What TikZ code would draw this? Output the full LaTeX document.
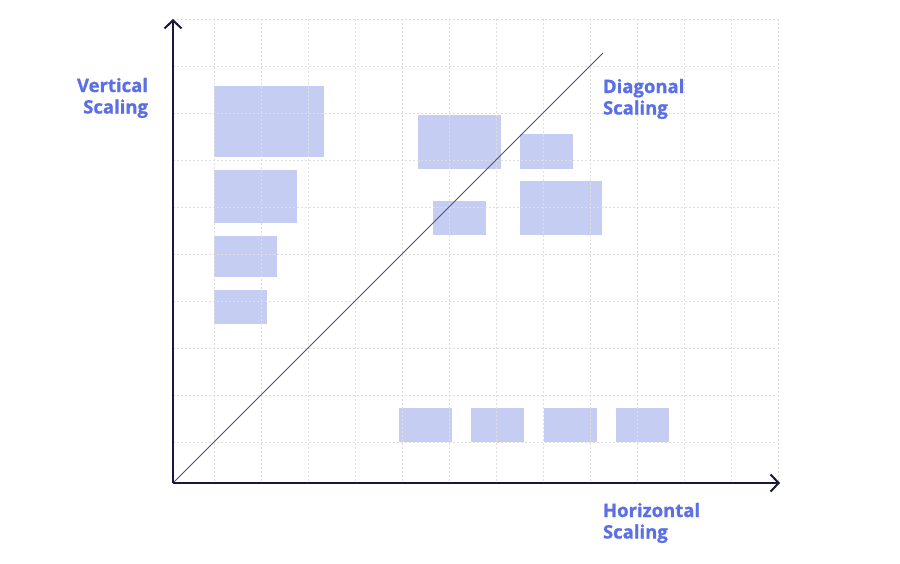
\documentclass[tikz,border=0pt]{standalone}
\usepackage{fontspec}
\setmainfont{Open Sans}[BoldFont={Open Sans Bold}, BoldFeatures={FakeBold=1}]
\usepackage{xcolor}
\usetikzlibrary{arrows.meta}
\definecolor{scalefill}{RGB}{197,205,242}
\definecolor{scaletext}{RGB}{91,112,228}
\definecolor{axisnavy}{RGB}{26,24,56}
\tikzset{>={Straight Barb[length=8pt,width=17pt]}}

\begin{document}
\begin{tikzpicture}[x=1pt, y=-1pt]
                % grid is 47px, rectangles sit on it
                \tikzstyle{every node}=[inner sep=0pt, outer sep=0pt]
                \tikzstyle{block}=[fill=scalefill, draw=none]
                \tikzstyle{gridline}=[gray!25, line width=0.7pt, dash pattern=on 2pt off 2pt]
                \tikzstyle{axisline}=[axisnavy, line width=2pt, ->]
                \tikzstyle{caption}=[text=scaletext, font=\fontsize{18.5}{21.5}\selectfont\bfseries]
                \fill[white] (0,0) rectangle (900,563);
                \useasboundingbox (0,0) rectangle (900,563);

                % vertical scaling
                \node[block, minimum width=110, minimum height=71] (v1) at (269,121.5) {};
                \node[block, minimum width=83, minimum height=53] (v2) at (255.5,196.5) {};
                \node[block, minimum width=63, minimum height=41] (v3) at (245.5,256.5) {};
                \node[block, minimum width=53, minimum height=34] (v4) at (240.5,307) {};

                % diagonal scaling
                \node[block, minimum width=83, minimum height=54] (d1) at (459.5,142) {};
                \node[block, minimum width=53, minimum height=35] (d2) at (546.5,151.5) {};
                \node[block, minimum width=53, minimum height=34] (d3) at (459.5,218) {};
                \node[block, minimum width=82, minimum height=54] (d4) at (561,208) {};

                % horizontal scaling
                \foreach \i in {0,...,3}
                        \node[block, minimum width=53, minimum height=34] (h\i) at (425.5+72.3*\i,424.5) {};

                \foreach \k in {0,...,9}
                        \draw[gridline] (173,19+47*\k) -- (778,19+47*\k);
                \foreach \k in {0,...,12}
                        \draw[gridline] (214+47*\k,19) -- (214+47*\k,483);

                \coordinate (O) at (173,483);
                \coordinate (ytop) at (173,19);
                \coordinate (xend) at (780,483);
                \coordinate (dtop) at (603,53);

                \draw[axisnavy!75, line width=0.8pt] (O) -- (dtop);
                \draw[axisline] (O) -- (ytop);
                \draw[axisline] (O) -- (xend);

                % base = baseline of the last line
                \node[caption, align=right, anchor=base east] (vlabel) at (148,113.5) {Vertical\\Scaling};
                \node[caption, align=left, anchor=base west] (dlabel) at (603,114.5) {Diagonal\\Scaling};
                \node[caption, align=left, anchor=base west] (hlabel) at (603,538.5) {Horizontal\\Scaling};
        \end{tikzpicture}
\end{document}
